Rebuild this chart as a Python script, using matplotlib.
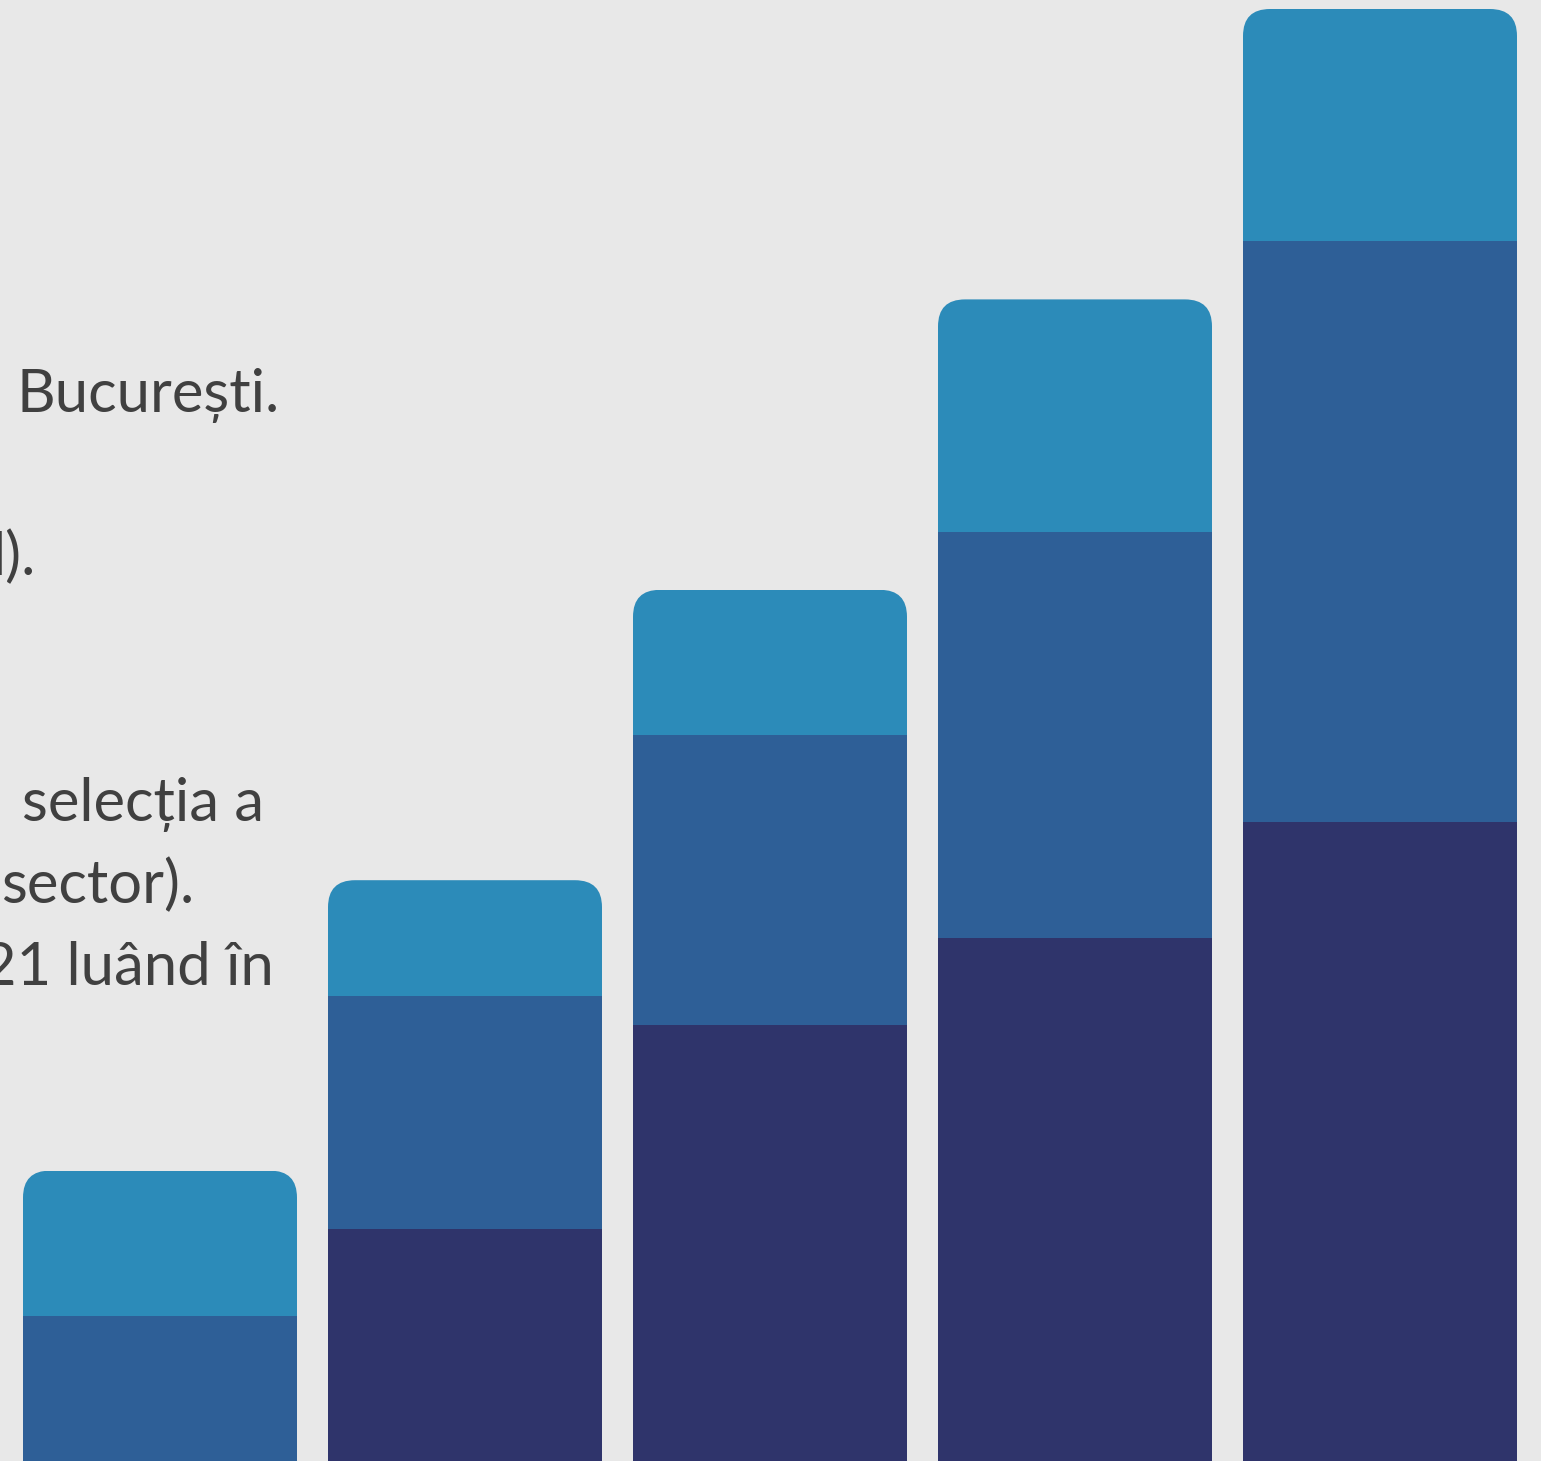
import numpy as np
import matplotlib
matplotlib.use("Agg")
import matplotlib.pyplot as plt
from matplotlib.patches import FancyBboxPatch

# ---- data ----
categories = ["1", "2", "3", "4", "5"]
dark_vals = [0, 80, 150, 180, 220]
mid_vals = [50, 80, 100, 140, 200]
light_vals = [50, 40, 50, 80, 80]

text_lines = ["București.", "l).", "selecția a", "sector).", "21 luând în"]
text_right_px = [280, 36, 264, 194, 274]
text_base_px = [412, 575, 821, 903, 985]

# ---- style ----
W, H = 1541, 1461
BG = "#e8e8e8"
C_DARK, C_MID, C_LIGHT = "#2f346b", "#2e5f97", "#2c8bb9"
TXT = "#404040"

fig = plt.figure(figsize=(W / 100, H / 100), dpi=100, facecolor=BG)
ax = fig.add_axes([0, 0, 1, 1], facecolor=BG)

x = np.arange(len(categories))
sx = 305.0                     # px per category
x0 = 160.0                     # px centre of first bar
ax.set_xlim(-x0 / sx, (W - x0) / sx)
sy = 1452.0 / 500.0            # px per value unit
ax.set_ylim(0, H / sy)
width = 274 / sx

dark = np.array(dark_vals, float)
mid = np.array(mid_vals, float)
light = np.array(light_vals, float)
tops = dark + mid + light

b1 = ax.bar(x, dark, width, color=C_DARK, linewidth=0)
b2 = ax.bar(x, mid, width, bottom=dark, color=C_MID, linewidth=0)
b3 = ax.bar(x, light, width, bottom=dark + mid, color=C_LIGHT, linewidth=0)

R_px = 27.0
r = R_px / sx
for i in range(len(x)):
    clip = FancyBboxPatch((x[i] - width / 2, -200), width, tops[i] + 200,
                          boxstyle=f"round,pad=0,rounding_size={r}",
                          mutation_aspect=sx / sy, transform=ax.transData,
                          facecolor="none", edgecolor="none")
    ax.add_patch(clip)
    for bars in (b1, b2, b3):
        bars[i].set_clip_path(clip)

ax.axis("off")

for s, xr, yb in zip(text_lines, text_right_px, text_base_px):
    fig.text(xr / W, 1 - yb / H, s, ha="right", va="baseline",
             fontsize=43, color=TXT, family=["Lato", "DejaVu Sans"])

fig.savefig("out.png", dpi=100, facecolor=BG)
